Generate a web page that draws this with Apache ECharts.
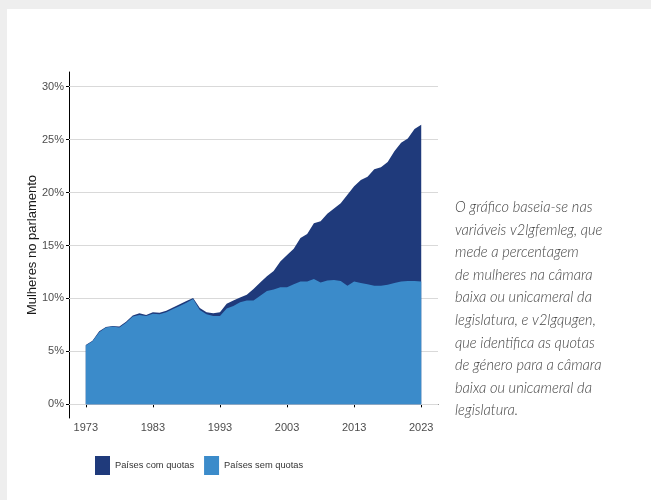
<!DOCTYPE html>
<html>
<head>
<meta charset="utf-8">
<script src="https://cdn.jsdelivr.net/npm/echarts@6/dist/echarts.min.js"></script>
<style>
  html, body { margin: 0; padding: 0; background: #eeeeee; }
  #sheet { position: absolute; left: 7px; top: 9px; width: 644px; height: 491px; background: #ffffff; }
  #chart { position: absolute; left: 0; top: 0; width: 651px; height: 500px; }
</style>
</head>
<body>
<div id="sheet"></div>
<div id="chart"></div>
<script>
// Anos (1973–2023)
const years = [];
for (let y = 1973; y <= 2023; y++) years.push(y);

// Percentagem média de mulheres: parte atribuída a países sem quotas
const semQuotas = [
  5.55, 5.95, 6.8, 7.25, 7.35, 7.25, 7.7, 8.3, 8.45, 8.35,
  8.55, 8.5, 8.7, 9.0, 9.3, 9.6, 9.95, 8.9, 8.5, 8.35,
  8.35, 9.05, 9.3, 9.65, 9.8, 9.8, 10.25, 10.7, 10.85, 11.05,
  11.05, 11.35, 11.6, 11.6, 11.85, 11.5, 11.7, 11.75, 11.65, 11.2,
  11.6, 11.45, 11.35, 11.2, 11.2, 11.3, 11.45, 11.6, 11.65, 11.65,
  11.6
];

// Parte adicional atribuída a países com quotas (empilhada por cima)
const comQuotas = [
  0.05, 0.05, 0.1, 0.05, 0.05, 0.1, 0.1, 0.1, 0.15, 0.1,
  0.15, 0.15, 0.15, 0.15, 0.15, 0.15, 0.1, 0.2, 0.2, 0.25,
  0.35, 0.45, 0.5, 0.45, 0.55, 1.1, 1.25, 1.4, 1.75, 2.45,
  3.05, 3.35, 4.1, 4.5, 5.25, 5.8, 6.3, 6.75, 7.35, 8.6,
  9.0, 9.75, 10.15, 11.0, 11.2, 11.6, 12.45, 13.1, 13.45, 14.35,
  14.8
];

const xTicks = [1973, 1983, 1993, 2003, 2013, 2023];
const yTicks = [0, 5, 10, 15, 20, 25, 30];

const seriesNames = ['Países com quotas', 'Países sem quotas'];
const yTitle = 'Mulheres no parlamento';

const noteLines = [
  'O gráfico baseia-se nas',
  'variáveis v2lgfemleg, que',
  'mede a percentagem',
  'de mulheres na câmara',
  'baixa ou unicameral da',
  'legislatura, e v2lgqugen,',
  'que identifica as quotas',
  'de género para a câmara',
  'baixa ou unicameral da',
  'legislatura.'
];

const DARK = '#1f3a7b';
const LIGHT = '#3b8bca';
const FONT = '"Liberation Sans", Arial, sans-serif';

// camada inferior: países sem quotas
const lowerLayer = years.map((y, i) => [y, semQuotas[i]]);
// camada superior empilhada: sem quotas + com quotas
const upperLayer = years.map((y, i) => [y, semQuotas[i] + comQuotas[i]]);

const chart = echarts.init(document.getElementById('chart'));
chart.setOption({
  backgroundColor: 'transparent',
  animation: false,
  grid: { left: 69, right: 213, top: 72, bottom: 82 },
  xAxis: {
    type: 'value',
    min: 1970.5,
    max: 2025.5,
    axisLine: { show: true, lineStyle: { color: '#000', width: 1 } },
    axisTick: { show: true, length: 3, customValues: xTicks, lineStyle: { color: '#000', width: 1 } },
    axisLabel: {
      customValues: xTicks,
      formatter: v => String(v),
      color: '#4d4d4d',
      fontFamily: FONT,
      fontSize: 11,
      margin: 4
    },
    splitLine: { show: false }
  },
  yAxis: {
    type: 'value',
    min: -1.29,
    max: 31.39,
    name: yTitle,
    nameLocation: 'middle',
    nameGap: 30,
    nameRotate: 90,
    nameMoveOverlap: false,
    nameTextStyle: { color: '#1a1a1a', fontFamily: FONT, fontSize: 13 },
    axisLine: { show: true, lineStyle: { color: '#000', width: 1 } },
    axisTick: { show: true, length: 3, customValues: yTicks, lineStyle: { color: '#000', width: 1 } },
    axisLabel: {
      customValues: yTicks,
      formatter: v => v + '%',
      color: '#4d4d4d',
      fontFamily: FONT,
      fontSize: 11,
      margin: 5
    },
    splitLine: { show: false }
  },
  legend: {
    data: seriesNames,
    left: 90,
    top: 451,
    itemWidth: 15,
    itemHeight: 19,
    itemGap: 10,
    icon: 'rect',
    textStyle: { color: '#333', fontFamily: FONT, fontSize: 9.3 }
  },
  graphic: [{
    type: 'text',
    left: 455,
    top: 196,
    silent: true,
    style: {
      text: noteLines.join('\n'),
      fill: '#444',
      font: 'italic 300 14.6px Lato, "Open Sans", sans-serif',
      lineHeight: 22.6
    }
  }],
  series: [
    {
      // linhas horizontais de referência
      type: 'line',
      z: 1,
      silent: true,
      data: [],
      markLine: {
        z: 1,
        silent: true,
        symbol: ['none', 'none'],
        label: { show: false },
        lineStyle: { color: '#d9d9d9', width: 1, type: 'solid' },
        data: yTicks.map(v => ({ yAxis: v }))
      }
    },
    {
      name: seriesNames[0],
      type: 'line',
      z: 3,
      symbol: 'none',
      lineStyle: { width: 0 },
      itemStyle: { color: DARK },
      areaStyle: { color: DARK, opacity: 1 },
      data: upperLayer
    },
    {
      name: seriesNames[1],
      type: 'line',
      z: 4,
      symbol: 'none',
      lineStyle: { width: 0 },
      itemStyle: { color: LIGHT },
      areaStyle: { color: LIGHT, opacity: 1 },
      data: lowerLayer
    }
  ]
});
</script>
</body>
</html>
